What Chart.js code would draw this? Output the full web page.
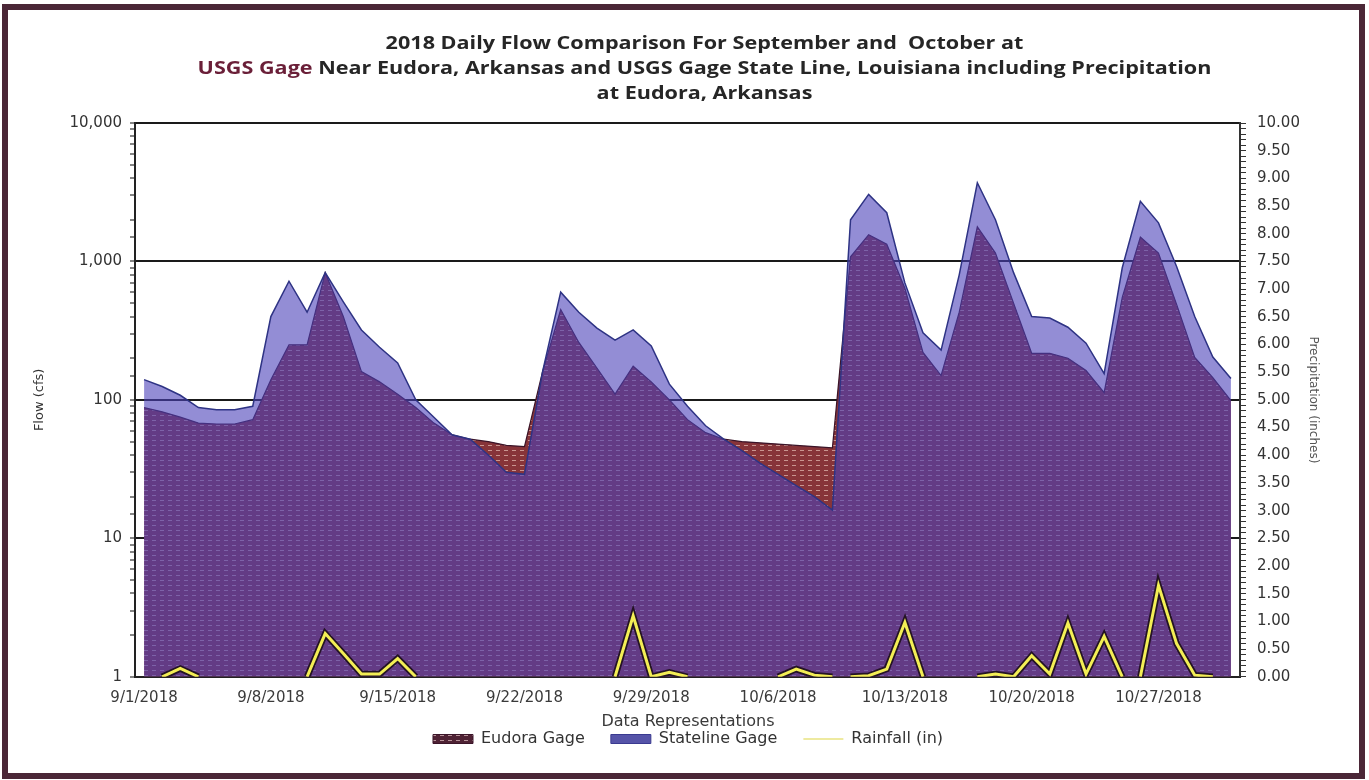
<!DOCTYPE html>
<html>
<head>
<meta charset="utf-8">
<title>2018 Daily Flow Comparison</title>
<script src="https://cdn.jsdelivr.net/npm/chart.js@4.4.0/dist/chart.umd.min.js"></script>
<style>
  html, body { margin: 0; padding: 0; background: #fff; }
  #wrap { position: relative; width: 1369px; height: 780px; overflow: hidden; }
  #flowChart { position: absolute; left: 0; top: 0; }
  #title { position: absolute; left: 40px; right: 0; top: 30px; text-align: center;
           font: 700 17px 'Open Sans', sans-serif; line-height: 25px; color: #262626;
           transform: scaleX(1.27); transform-origin: 50% 0; }
  #title .gage { color: #6a1f38; }
  #frame { position: absolute; left: 2px; top: 4px; width: 1363px; height: 775px;
           box-sizing: border-box; border: 6px solid #4b2737; pointer-events: none; }
</style>
</head>
<body>
<div id="wrap">
  <canvas id="flowChart" width="1369" height="780"></canvas>
  <div id="title">2018 Daily Flow Comparison For September and&nbsp; October at<br><span class="gage">USGS Gage</span> Near Eudora, Arkansas and USGS Gage State Line, Louisiana including Precipitation<br>at Eudora, Arkansas</div>
  <div id="frame"></div>
</div>
<script>
// fechas: 1 de septiembre a 31 de octubre de 2018
const dates = [];
for (let d = 1; d <= 30; d++) dates.push('9/' + d + '/2018');
for (let d = 1; d <= 31; d++) dates.push('10/' + d + '/2018');

// caudal diario (cfs)
const eudoraFlow = [
  88, 82, 75, 68, 67, 67, 72, 140, 250, 250,
  830, 400, 160, 135, 110, 88, 68, 56, 52, 50,
  47, 46, 160, 450, 260, 170, 110, 175, 135, 100,
  72, 58, 52, 50, 49, 48, 47, 46, 45, 1080,
  1560, 1330, 640, 220, 150, 430, 1780, 1150, 500, 217,
  217, 200, 163, 113, 550, 1500, 1150, 490, 203, 145,
  99
];
const statelineFlow = [
  140, 125, 108, 88, 85, 85, 90, 400, 720, 430,
  830, 510, 320, 240, 185, 100, 75, 56, 52, 40,
  30, 29, 160, 600, 430, 330, 270, 320, 245, 130,
  90, 65, 52, 43, 35, 29, 24, 20, 16, 2000,
  3050, 2250, 700, 305, 229, 800, 3700, 2000, 830, 400,
  390, 335, 257, 155, 900, 2720, 1900, 920, 400, 204,
  143
];
// lluvia diaria (pulgadas)
const rainfall = [
  0, 0, 0.15, 0, 0, 0, 0, 0, 0, 0,
  0.78, 0.42, 0.05, 0.05, 0.33, 0, 0, 0, 0, 0,
  0, 0, 0, 0, 0, 0, 0, 1.1, 0, 0.08,
  0, 0, 0, 0, 0, 0, 0.14, 0.03, 0, 0,
  0.02, 0.14, 0.98, 0, 0, 0, 0, 0.05, 0, 0.38,
  0.05, 0.97, 0.05, 0.73, 0, 0, 1.65, 0.6, 0.03, 0,
  0
];

const canvas = document.getElementById('flowChart');
const ctx = canvas.getContext('2d');

// trama rayada para Eudora
function hatch(base, dash) {
  const tile = document.createElement('canvas');
  tile.width = 8; tile.height = 5;
  const g = tile.getContext('2d');
  g.fillStyle = base; g.fillRect(0, 0, 8, 5);
  g.fillStyle = dash; g.fillRect(0, 0, 4, 1);
  return ctx.createPattern(tile, 'repeat');
}
const eudoraFill = hatch('#873439', '#c99590');
const eudoraLegend = hatch('#4f2234', '#b8949a');

const isPow10 = v => Math.abs(Math.log10(v) - Math.round(Math.log10(v))) < 1e-9;
const zeroSeg = c => (c.p0.parsed.y === 0 && c.p1.parsed.y === 0) ? 'rgba(0,0,0,0)' : undefined;
const font = 'DejaVu Sans';

// mover la leyenda un poco a la derecha, como en el original
const legendShift = {
  id: 'legendShift',
  afterLayout(chart) {
    chart.legend.left += 12;
    chart.legend.right += 12;
  }
};

new Chart(ctx, {
  type: 'line',
  data: {
    labels: dates,
    datasets: [{
      label: 'Eudora Gage',
      data: eudoraFlow,
      yAxisID: 'y',
      backgroundColor: eudoraFill,
      borderColor: '#3a1428',
      borderWidth: 1.2,
      fill: 'start',
      pointRadius: 0,
      tension: 0,
      order: 3
    }, {
      label: 'Stateline Gage',
      data: statelineFlow,
      yAxisID: 'y',
      backgroundColor: 'rgba(75,65,185,0.6)',
      borderColor: '#2e3384',
      borderWidth: 1.5,
      fill: 'start',
      pointRadius: 0,
      tension: 0,
      order: 2
    }, {
      label: 'Rainfall (in)',
      data: rainfall,
      yAxisID: 'y2',
      borderColor: '#f3ee55',
      borderWidth: 3,
      fill: false,
      pointRadius: 0,
      tension: 0,
      segment: { borderColor: zeroSeg },
      order: 0
    }, {
      label: 'outline',
      data: rainfall,
      yAxisID: 'y2',
      borderColor: '#241424',
      borderWidth: 6.5,
      fill: false,
      pointRadius: 0,
      tension: 0,
      segment: { borderColor: zeroSeg },
      order: 1
    }]
  },
  options: {
    responsive: false,
    animation: false,
    devicePixelRatio: 1,
    layout: { padding: { top: 123, left: 32, right: 49, bottom: 23 } },
    plugins: {
      tooltip: { enabled: false },
      legend: {
        position: 'bottom',
        title: {
          display: true,
          text: 'Data Representations',
          color: '#3a3a3a',
          font: { family: font, size: 16 },
          padding: { top: 0, bottom: -28 }
        },
        labels: {
          usePointStyle: true,
          pointStyleWidth: 40,
          boxHeight: 9,
          padding: 26,
          color: '#333',
          font: { family: font, size: 16 },
          filter: item => item.datasetIndex !== 3,
          sort: (a, b) => a.datasetIndex - b.datasetIndex,
          generateLabels: function(chart) {
            const items = Chart.defaults.plugins.legend.labels.generateLabels(chart);
            items.forEach(item => {
              if (item.datasetIndex === 0) {
                item.pointStyle = 'rect'; item.fillStyle = eudoraLegend;
                item.strokeStyle = '#3a1428'; item.lineWidth = 1;
              } else if (item.datasetIndex === 1) {
                item.pointStyle = 'rect'; item.fillStyle = '#5654a8';
                item.strokeStyle = '#3a3a90'; item.lineWidth = 1;
              } else {
                item.pointStyle = 'line'; item.strokeStyle = '#eeeaa0';
                item.fillStyle = '#eeeaa0'; item.lineWidth = 2;
              }
            });
            return items;
          }
        }
      }
    },
    scales: {
      x: {
        type: 'category',
        offset: true,
        z: 1,
        grid: { display: false },
        border: { display: true, color: '#222', width: 2 },
        ticks: {
          autoSkip: false,
          maxRotation: 0,
          padding: 4,
          color: '#3a3a3a',
          font: { family: font, size: 15 },
          callback: function(value, index) {
            return index % 7 === 0 ? this.getLabelForValue(value) : '';
          }
        },
        afterFit: s => { s.height = 37; }
      },
      y: {
        type: 'logarithmic',
        position: 'left',
        min: 1,
        max: 10000,
        grid: {
          color: c => (c.tick && isPow10(c.tick.value)) ? '#1a1a1a' : 'rgba(0,0,0,0)',
          lineWidth: 2,
          tickColor: '#333',
          tickWidth: 1.2,
          tickLength: 5
        },
        border: { display: true, color: '#222', width: 2 },
        ticks: {
          autoSkip: false,
          padding: 8,
          color: '#333',
          font: { family: font, size: 15 },
          callback: v => isPow10(v) ? v.toLocaleString('en-US') : ''
        },
        title: {
          display: true,
          text: 'Flow (cfs)',
          color: '#333',
          font: { family: font, size: 13 },
          padding: 0
        },
        afterFit: s => { s.width = 103; }
      },
      y2: {
        type: 'linear',
        position: 'right',
        min: 0,
        max: 10,
        grid: { drawOnChartArea: false, color: '#333', tickLength: 6, lineWidth: 1 },
        border: { display: true, color: '#333', width: 2 },
        ticks: {
          stepSize: 0.1,
          autoSkip: false,
          padding: 11,
          color: '#333',
          font: { family: font, size: 15 },
          callback: v => Math.abs(v * 2 - Math.round(v * 2)) < 1e-6 ? v.toFixed(2) : ''
        },
        title: {
          display: true,
          text: 'Precipitation (inches)',
          color: '#555',
          font: { family: font, size: 12 },
          padding: 0
        },
        afterFit: s => { s.width = 80; }
      }
    }
  },
  plugins: [legendShift]
});
</script>
</body>
</html>
